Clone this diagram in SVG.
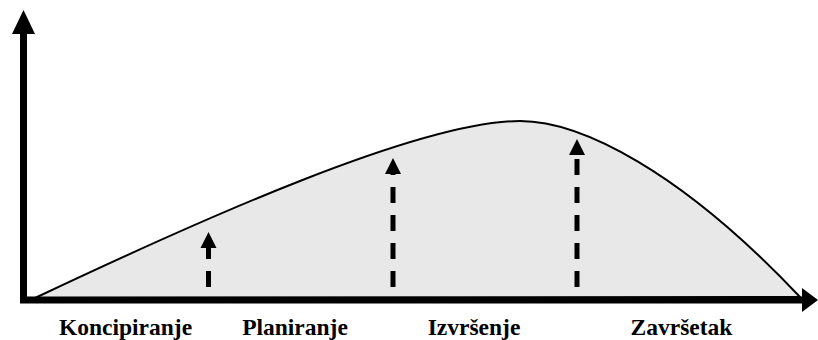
<svg xmlns="http://www.w3.org/2000/svg" width="818" height="340" viewBox="0 0 818 340">
<style>
.axis{stroke:#000;stroke-width:7;fill:none}
.curve{stroke:#000;stroke-width:2;fill:#e8e8e8}
.dash{stroke:#000;stroke-width:5;stroke-dasharray:16 12;fill:none}
.head{fill:#000}
.lbl{font-family:"Liberation Serif","Times New Roman",serif;font-weight:bold;font-size:23.5px;fill:#000;text-anchor:middle}
</style>
<g id="area">
<path class="curve" d="M35,298 C200,220 420,121 520,121 C580,121 680,170 800,297 Z"/>
</g>
<g id="axes">
<line class="axis" x1="23.5" y1="303" x2="23.5" y2="32"/>
<polygon class="head" points="23.5,10 35,34 12,34"/>
<line class="axis" x1="20" y1="300" x2="804" y2="300"/>
<polygon class="head" points="818,300 802,288 802,312"/>
</g>
<g id="connectors">
<line class="dash" x1="208.5" y1="287" x2="208.5" y2="246"/>
<polygon class="head" points="208.5,232 216.5,248 200.5,248"/>
<line class="dash" x1="393" y1="287" x2="393" y2="172"/>
<polygon class="head" points="393,158 401,174 385,174"/>
<line class="dash" x1="577" y1="287" x2="577" y2="153"/>
<polygon class="head" points="577,139 585,155 569,155"/>
</g>
<g id="labels">
<text class="lbl" x="125.5" y="335">Koncipiranje</text>
<text class="lbl" x="295" y="335">Planiranje</text>
<text class="lbl" x="474" y="335">Izvršenje</text>
<text class="lbl" x="681.5" y="335">Završetak</text>
</g>
</svg>
